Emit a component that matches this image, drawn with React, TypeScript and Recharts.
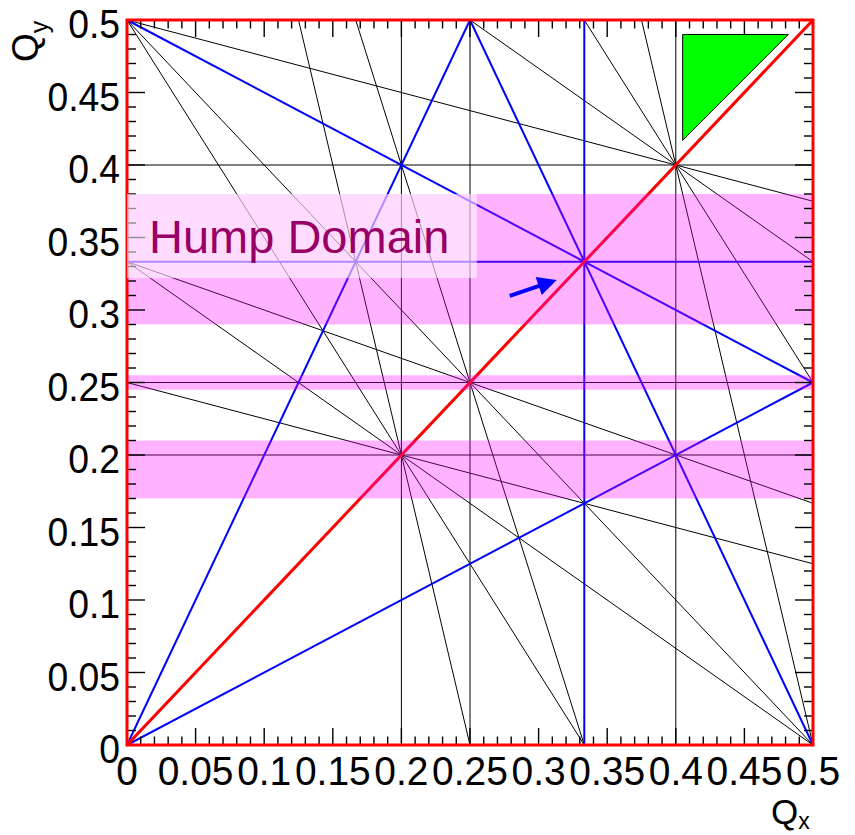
import React from "react";
import {
  ComposedChart,
  Line,
  XAxis,
  YAxis,
  ReferenceLine,
  ReferenceArea,
} from "recharts";

type Seg = [number, number, number, number];

// resonance lines, as [qx1, qy1, qx2, qy2]
const FIFTH_ORDER: Seg[] = [
  [0.2, 0, 0.2, 0.5],
  [0.4, 0, 0.4, 0.5],
  [0, 0.2, 0.5, 0.2],
  [0, 0.4, 0.5, 0.4],
  [0.125, 0.5, 0.25, 0],
  [0.375, 0.5, 0.5, 0],
  [0, 0.25, 0.5, 0.125],
  [0, 0.5, 0.5, 0.375],
  [0, 0.5, 0.3333, 0],
  [0.3333, 0.5, 0.5, 0.25],
  [0, 0.3333, 0.5, 0],
  [0.25, 0.5, 0.5, 0.3333],
];
const FOURTH_ORDER: Seg[] = [
  [0.25, 0, 0.25, 0.5],
  [0, 0.25, 0.5, 0.25],
  [0.1667, 0.5, 0.3333, 0],
  [0, 0.3333, 0.5, 0.1667],
  [0, 0.5, 0.5, 0],
];
const THIRD_ORDER: Seg[] = [
  [0.3333, 0, 0.3333, 0.5],
  [0, 0.3333, 0.5, 0.3333],
  [0.25, 0.5, 0.5, 0],
  [0, 0.5, 0.5, 0.25],
  [0, 0, 0.25, 0.5],
  [0, 0, 0.5, 0.25],
];
const COUPLING = [
  { x: 0, y: 0 },
  { x: 0.5, y: 0.5 },
];

// Qy bands of the hump
const HUMP_BANDS: [number, number][] = [
  [0.29, 0.38],
  [0.245, 0.255],
  [0.17, 0.21],
];
const LABEL_BOX = { x1: 0, x2: 0.255, y1: 0.322, y2: 0.38 };
const ARROW: Seg = [0.279, 0.3097, 0.3132, 0.3207];
const TRIANGLE = { x1: 0.405, x2: 0.482, y1: 0.417, y2: 0.49 };

const MAJOR_TICKS = [0, 0.05, 0.1, 0.15, 0.2, 0.25, 0.3, 0.35, 0.4, 0.45, 0.5];
const ALL_TICKS = Array.from({ length: 51 }, (_, i) => i / 100);
const Q_MAX = 0.5;

const W = 855;
const H = 835;
const PLOT_TOP = 20;
const PLOT_RIGHT = 813;
const FONT = '"Liberation Sans", Arial, sans-serif';

const isMajor = (v: number) => MAJOR_TICKS.some((m) => Math.abs(m - v) < 1e-6);
const fmt = (v: number) => String(+v.toFixed(2));

function XTick({ x, payload }: any) {
  const v = payload.value;
  if (!isMajor(v)) return <g />;
  return (
    <text
      transform={`translate(${x},785) scale(0.95,1)`}
      textAnchor="middle"
      fontSize={41}
      fontFamily={FONT}
      fill="#000"
    >
      {fmt(v)}
    </text>
  );
}

function YTick({ y, payload }: any) {
  const v = payload.value;
  if (!isMajor(v)) return <g />;
  return (
    <text
      transform={`translate(120,${y + 18}) scale(0.91,1)`}
      textAnchor="end"
      fontSize={41}
      fontFamily={FONT}
      fill="#000"
    >
      {fmt(v)}
    </text>
  );
}

// red frame plus the inward tick marks on all four sides (filled slivers)
function FrameShape(props: any) {
  const x = Number(props.x);
  const y = Number(props.y);
  const w = Number(props.width);
  const h = Number(props.height);
  const t = 1.4;
  const marks: React.ReactNode[] = [];
  ALL_TICKS.forEach((v, i) => {
    const major = isMajor(v);
    const lx = major ? 17 : 8.5;
    const ly = major ? 18 : 9;
    const px = x + (v / Q_MAX) * w;
    const py = y + h - (v / Q_MAX) * h;
    marks.push(
      <rect key={`b${i}`} x={px - t / 2} y={y + h - lx} width={t} height={lx} fill="#000" />,
      <rect key={`t${i}`} x={px - t / 2} y={y} width={t} height={lx} fill="#000" />,
      <rect key={`l${i}`} x={x} y={py - t / 2} width={ly} height={t} fill="#000" />,
      <rect key={`r${i}`} x={x + w - ly} y={py - t / 2} width={ly} height={t} fill="#000" />
    );
  });
  return (
    <g>
      {marks}
      <rect x={x} y={y} width={w} height={h} fill="none" stroke="#ff0000" strokeWidth={3} />
    </g>
  );
}

function LabelBox({ x, y, width, height }: any) {
  return (
    <g>
      <rect x={x} y={y} width={width} height={height} fill="#fff" fillOpacity={0.55} />
      <text x={Number(x) + 22} y={Number(y) + 59} fontSize={47} fontFamily={FONT} fill="#990066">
        Hump Domain
      </text>
    </g>
  );
}

function TriangleShape(props: any) {
  const x = Number(props.x);
  const y = Number(props.y);
  const w = Number(props.width);
  const h = Number(props.height);
  return (
    <polygon
      points={`${x},${y} ${x + w},${y} ${x},${y + h}`}
      fill="#00ff00"
      stroke="#000"
      strokeWidth={1}
    />
  );
}

function ArrowShape(props: any) {
  const x1 = Number(props.x1);
  const y1 = Number(props.y1);
  const x2 = Number(props.x2);
  const y2 = Number(props.y2);
  const dx = x2 - x1;
  const dy = y2 - y1;
  const len = Math.hypot(dx, dy) || 1;
  const ux = dx / len;
  const uy = dy / len;
  const head = 19;
  const half = 9.5;
  const bx = x2 - ux * head;
  const by = y2 - uy * head;
  return (
    <g>
      <line x1={x1} y1={y1} x2={bx + ux * 2} y2={by + uy * 2} stroke="#0000ff" strokeWidth={4} />
      <polygon
        points={`${x2},${y2} ${bx - uy * half},${by + ux * half} ${bx + uy * half},${by - ux * half}`}
        fill="#0000ff"
      />
    </g>
  );
}

function segLine(s: Seg, key: string, stroke: string, width: number, z: number) {
  return (
    <ReferenceLine
      key={key}
      segment={[
        { x: s[0], y: s[1] },
        { x: s[2], y: s[3] },
      ]}
      stroke={stroke}
      strokeWidth={width}
      ifOverflow="visible"
      zIndex={z}
    />
  );
}

export default function App() {
  return (
    <div style={{ position: "absolute", left: 0, top: 0, width: W, height: H, background: "#fff" }}>
      <ComposedChart
        width={W}
        height={H}
        data={COUPLING}
        margin={{ top: PLOT_TOP, right: W - PLOT_RIGHT, bottom: 30, left: 27 }}
      >
        <XAxis
          type="number"
          dataKey="x"
          domain={[0, Q_MAX]}
          allowDataOverflow
          ticks={ALL_TICKS}
          interval={0}
          tick={(p: any) => <XTick {...p} />}
          tickLine={false}
          axisLine={false}
          tickSize={0}
          height={60}
        />
        <YAxis
          type="number"
          dataKey="y"
          domain={[0, Q_MAX]}
          allowDataOverflow
          ticks={ALL_TICKS}
          interval={0}
          tick={(p: any) => <YTick {...p} />}
          tickLine={false}
          axisLine={false}
          tickSize={0}
          width={100}
        />

        {FIFTH_ORDER.map((s, i) => segLine(s, `o5-${i}`, "#000", 1, 401))}
        {FOURTH_ORDER.map((s, i) => segLine(s, `o4-${i}`, "#000", 1, 402))}
        {THIRD_ORDER.map((s, i) => segLine(s, `o3-${i}`, "#0000ff", 2, 403))}

        <Line
          type="linear"
          dataKey="y"
          stroke="#ff0000"
          strokeWidth={3}
          dot={false}
          activeDot={false}
          isAnimationActive={false}
          zIndex={404}
        />

        {HUMP_BANDS.map(([lo, hi], i) => (
          <ReferenceArea
            key={`band-${i}`}
            x1={0}
            x2={Q_MAX}
            y1={lo}
            y2={hi}
            fill="#ff00ff"
            fillOpacity={0.3}
            stroke="none"
            ifOverflow="visible"
            zIndex={500}
          />
        ))}

        <ReferenceArea
          x1={0}
          x2={Q_MAX}
          y1={0}
          y2={Q_MAX}
          shape={(p: any) => <FrameShape {...p} />}
          ifOverflow="visible"
          zIndex={510}
        />

        <ReferenceArea
          x1={LABEL_BOX.x1}
          x2={LABEL_BOX.x2}
          y1={LABEL_BOX.y1}
          y2={LABEL_BOX.y2}
          shape={<LabelBox />}
          ifOverflow="visible"
          zIndex={700}
        />

        <ReferenceArea
          x1={TRIANGLE.x1}
          x2={TRIANGLE.x2}
          y1={TRIANGLE.y1}
          y2={TRIANGLE.y2}
          shape={(p: any) => <TriangleShape {...p} />}
          ifOverflow="visible"
          zIndex={800}
        />

        <ReferenceLine
          segment={[
            { x: ARROW[0], y: ARROW[1] },
            { x: ARROW[2], y: ARROW[3] },
          ]}
          shape={(p: any) => <ArrowShape {...p} />}
          ifOverflow="visible"
          zIndex={800}
        />
      </ComposedChart>

      <div
        style={{
          position: "absolute",
          left: 44,
          top: 62,
          transform: "rotate(-90deg)",
          transformOrigin: "0 0",
          fontFamily: FONT,
          fontSize: 37,
          lineHeight: 1,
          whiteSpace: "nowrap",
          height: 0,
        }}
      >
        <span style={{ position: "absolute", left: 0, bottom: 0 }}>
          Q<span style={{ fontSize: 25, position: "relative", top: 10 }}>y</span>
        </span>
      </div>
      <div
        style={{
          position: "absolute",
          left: 771,
          top: 822,
          fontFamily: FONT,
          fontSize: 35,
          lineHeight: 1,
          whiteSpace: "nowrap",
          height: 0,
        }}
      >
        <span style={{ position: "absolute", left: 0, bottom: -7 }}>
          Q<span style={{ fontSize: 23, position: "relative", top: 5 }}>x</span>
        </span>
      </div>
    </div>
  );
}
